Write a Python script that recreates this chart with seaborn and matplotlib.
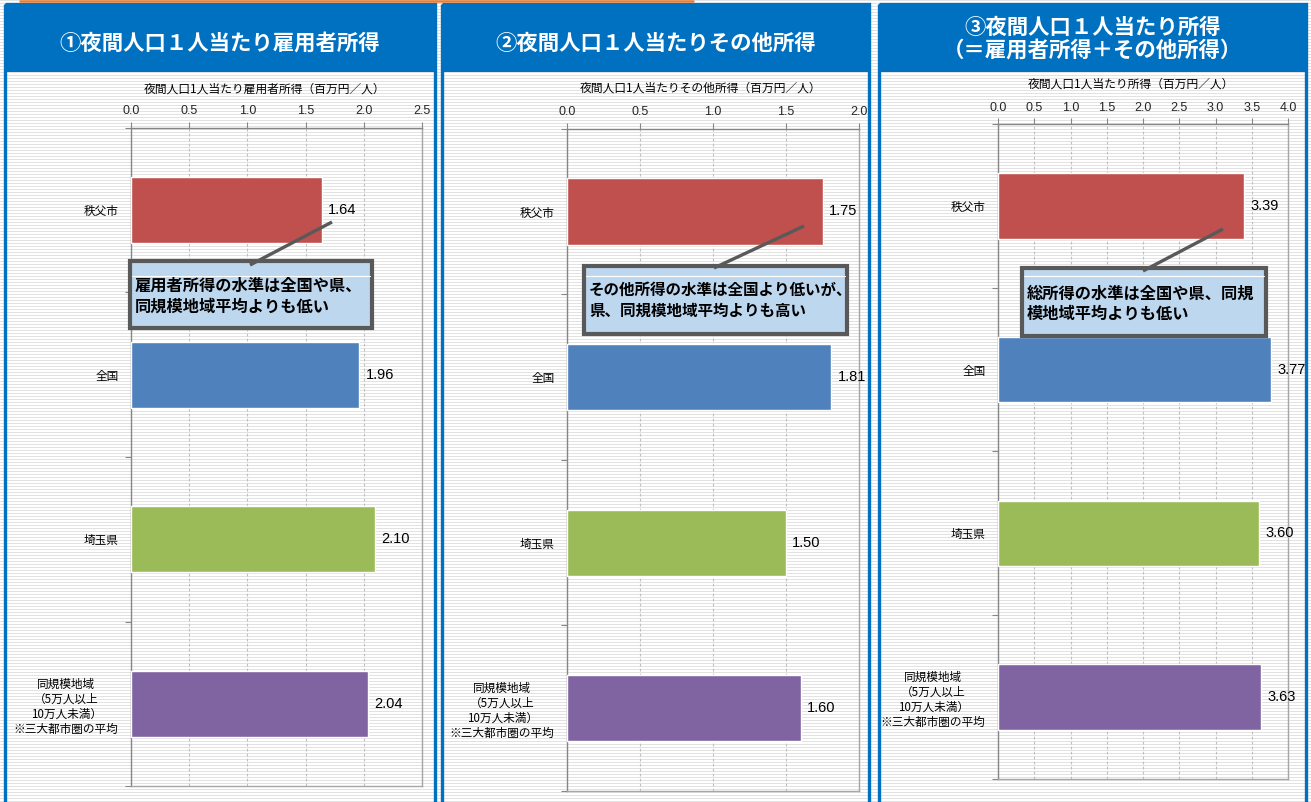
import numpy as np
import pandas as pd
import matplotlib
matplotlib.use("Agg")
import matplotlib.pyplot as plt
from matplotlib.patches import Rectangle
from matplotlib.lines import Line2D
import seaborn as sns

# ---- data ----
regions = ["秩父市", "全国", "埼玉県",
           "同規模地域\n（5万人以上\n10万人未満）\n※三大都市圏の平均"]
employee_income = [1.64, 1.96, 2.10, 2.04]
other_income = [1.75, 1.81, 1.50, 1.60]
total_income = [3.39, 3.77, 3.60, 3.63]

bar_colors = ["#C0504D", "#4F81BD", "#9BBB59", "#8064A2"]

panel_titles = ["①夜間人口１人当たり雇用者所得",
                "②夜間人口１人当たりその他所得",
                "③夜間人口１人当たり所得\n（＝雇用者所得＋その他所得）"]
axis_titles = ["夜間人口1人当たり雇用者所得（百万円／人）",
               "夜間人口1人当たりその他所得（百万円／人）",
               "夜間人口1人当たり所得（百万円／人）"]
x_max = [2.5, 2.0, 4.0]
callouts = ["雇用者所得の水準は全国や県、\n同規模地域平均よりも低い",
            "その他所得の水準は全国より低いが、\n県、同規模地域平均よりも高い",
            "総所得の水準は全国や県、同規\n模地域平均よりも低い"]

sns.set_theme(style="white")
plt.rcParams["font.family"] = ["Noto Sans CJK JP", "DejaVu Sans"]

W, H = 1311, 802
fig = plt.figure(figsize=(W / 100, H / 100), dpi=100)
fig.patch.set_facecolor("white")

# striped slide background
bg = fig.add_axes([0, 0, 1, 1], zorder=0)
stripes = np.ones((H, W, 3))
stripes[::3, :, :] = 0.89
bg.imshow(stripes, extent=[0, W, H, 0], aspect="auto", interpolation="nearest")
bg.set_xlim(0, W)
bg.set_ylim(H, 0)
bg.axis("off")


def px_rect(x0, y0, x1, y1):
    return [x0 / W, 1 - y1 / H, (x1 - x0) / W, (y1 - y0) / H]


axes_px = [(131, 127.7, 422, 786.3),
           (567, 128.7, 859, 791),
           (998, 124, 1288, 779)]
series = [employee_income, other_income, total_income]

for k in range(3):
    ax = fig.add_axes(px_rect(*axes_px[k]), zorder=2)
    ax.patch.set_alpha(0)
    df = pd.DataFrame({"region": regions, "value": series[k]})
    sns.barplot(data=df, x="value", y="region", hue="region",
                palette=bar_colors, width=0.4, orient="h",
                saturation=1, legend=False, ax=ax, zorder=3)
    ax.set_xlim(0, x_max[k])
    ax.set_ylim(3.5, -0.5)
    ticks = np.arange(0, x_max[k] + 0.01, 0.5)
    ax.set_xticks(ticks)
    ax.set_xticklabels([f"{t:.1f}" for t in ticks],
                       family="Liberation Sans", fontsize=9, color="#262626")
    ax.xaxis.tick_top()
    ax.tick_params(axis="x", top=True, bottom=False, labeltop=True,
                   labelbottom=False, length=4, width=0.8, color="#868686", pad=3.5)
    ax.set_xlabel("")
    ax.set_ylabel("")
    ax.tick_params(axis="y", which="major", length=0, pad=9,
                   labelsize=8.4, labelcolor="#000000")
    for lab in ax.get_yticklabels():
        lab.set_multialignment("center")
        lab.set_linespacing(1.2)
    ax.set_yticks([-0.5, 0.5, 1.5, 2.5, 3.5], minor=True)
    ax.tick_params(axis="y", which="minor", length=4, width=0.8,
                   color="#868686", direction="out", left=True)
    ax.grid(axis="x", linestyle=(0, (2.5, 2)), color="#bfbfbf", lw=0.8, zorder=0)
    ax.set_axisbelow(True)
    for side in ("left", "top"):
        ax.spines[side].set_color("#868686")
        ax.spines[side].set_linewidth(1.0)
    for side in ("right", "bottom"):
        ax.spines[side].set_color("#a6a6a6")
        ax.spines[side].set_linewidth(1.0)
    for i, v in enumerate(series[k]):
        ax.annotate(f"{v:.2f}", xy=(v, i), xytext=(4.5, 0),
                    textcoords="offset points", va="center", ha="left",
                    family="Liberation Sans", fontsize=10.5, color="#000000",
                    annotation_clip=False)

# overlay for frames, headers and callouts (pixel coordinates)
ov = fig.add_axes([0, 0, 1, 1], zorder=10)
ov.set_xlim(0, W)
ov.set_ylim(H, 0)
ov.patch.set_alpha(0)
ov.axis("off")

blue = "#0070C0"
ov.add_line(Line2D([20, 693], [1, 1], color="#ED7D31", lw=1.8))

panels = [(5, 435), (442, 869), (879, 1306)]
for k, (x0, x1) in enumerate(panels):
    ov.add_patch(Rectangle((x0, 4), x1 - x0, 68, facecolor=blue,
                           edgecolor=blue, lw=0))
    ov.add_patch(Rectangle((x0, 4), x1 - x0, 830, facecolor="none",
                           edgecolor=blue, lw=2.4, clip_on=False))
    cx = (x0 + x1) / 2
    if k < 2:
        ov.text(cx, 43, panel_titles[k], ha="center", va="center",
                color="white", fontsize=15.4, fontweight="bold")
    else:
        l1, l2 = panel_titles[k].split("\n")
        ov.text(cx, 27, l1, ha="center", va="center",
                color="white", fontsize=15.4, fontweight="bold")
        ov.text(cx, 50, l2, ha="center", va="center",
                color="white", fontsize=15.4, fontweight="bold")

title_pos = [(265, 89), (701, 88), (1131, 84)]
for k in range(3):
    ov.text(*title_pos[k], axis_titles[k], ha="center", va="center",
            fontsize=8.5, color="#000000")

# callout boxes: (x0, y0, x1, y1), leader (xa, ya, xb, yb), text origin, size
boxes = [((130, 261, 372, 328), (250, 265, 332, 222), (135, 286, 307), 11.7),
         ((584, 266, 847, 334), (714, 268, 804, 226), (589, 290, 311), 11.2),
         ((1022, 268, 1266, 336), (1143, 271, 1223, 229), (1027, 294, 314), 11.7)]
for k, (b, ld, tp, fs) in enumerate(boxes):
    x0, y0, x1, y1 = b
    ov.add_line(Line2D([ld[0], ld[2]], [ld[1], ld[3]], color="#595959",
                       lw=2.4, solid_capstyle="butt"))
    ov.add_patch(Rectangle((x0, y0), x1 - x0, y1 - y0, facecolor="#BDD7EE",
                           edgecolor="#595959", lw=3.0))
    ov.add_line(Line2D([x0 + 2, x1 - 2], [276, 276], color="white", lw=0.8))
    l1, l2 = callouts[k].split("\n")
    ov.text(tp[0], tp[1], l1, ha="left", va="center", fontsize=fs,
            fontweight="bold", color="#000000")
    ov.text(tp[0], tp[2], l2, ha="left", va="center", fontsize=fs,
            fontweight="bold", color="#000000")

fig.savefig("out.png", dpi=100)
